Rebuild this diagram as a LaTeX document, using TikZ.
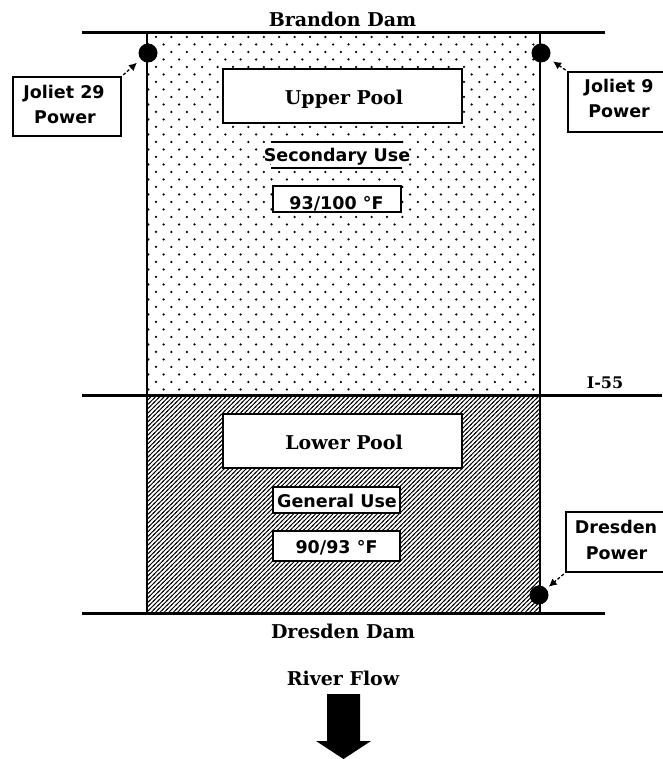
\documentclass[tikz,border=0pt]{standalone}
\usepackage{fontspec}
\setmainfont{DejaVu Serif}
\newfontfamily\labelsans{DejaVu Sans}
\usetikzlibrary{arrows.meta,patterns}

\pgfdeclarepatternformonly{sparsedots}{\pgfqpoint{-2pt}{-2pt}}{\pgfqpoint{17pt}{17pt}}{\pgfqpoint{15.4pt}{15pt}}{%
  \pgfpathcircle{\pgfqpoint{2pt}{2pt}}{1.25pt}%
  \pgfpathcircle{\pgfqpoint{9.7pt}{9.5pt}}{1.25pt}%
  \pgfusepath{fill}}
\pgfdeclarepatternformonly{densehatch}{\pgfqpoint{-1pt}{-1pt}}{\pgfqpoint{5.5pt}{5.5pt}}{\pgfqpoint{4.4pt}{4.4pt}}{%
  \pgfsetlinewidth{0.9pt}%
  \pgfpathmoveto{\pgfqpoint{-1pt}{-1pt}}%
  \pgfpathlineto{\pgfqpoint{5.4pt}{5.4pt}}%
  \pgfusepath{stroke}}

\tikzset{
  damline/.style={line width=3pt},
  sideline/.style={line width=2pt},
  titletext/.style={font=\bfseries\fontsize{19}{23}\selectfont, inner sep=0pt, anchor=base},
  sanstext/.style={font=\labelsans\bfseries\fontsize{17.5}{21}\selectfont, inner sep=0pt, anchor=base},
  poolbox/.style={draw, line width=2pt, fill=white, minimum width=239pt, minimum height=54pt, inner sep=0pt},
  smallbox/.style={draw, line width=1.6pt, fill=white, inner sep=0pt},
  plantdot/.style={circle, fill=black, minimum size=19pt, inner sep=0pt},
  pointer/.style={line width=1.3pt, dash pattern=on 3pt off 2pt, -{Latex[length=8pt,width=8pt]}}
}

\begin{document}
\begin{tikzpicture}[x=1pt,y=-1pt]
\useasboundingbox (0,0) rectangle (662,759);
\fill[white] (0,0) rectangle (662,759);

% pools
\fill[pattern=sparsedots] (147,33) rectangle (540,395);
\fill[pattern=densehatch] (147,395) rectangle (540,613);
\draw[sideline] (147,33) -- (147,613);
\draw[sideline] (540,33) -- (540,613);
\draw[damline] (82,33) -- (605,33);
\draw[damline] (82,395) -- (662,395);
\draw[damline] (82,613) -- (605,613);

% labels on lines
\node[titletext] (brandon) at (342.5,27) {Brandon Dam};
\node[titletext] (dresdendam) at (343,638) {Dresden Dam};
\node[titletext, font=\bfseries\fontsize{16}{20}\selectfont] (i55) at (605,388) {I-55};
\node[titletext] (flow) at (343,685) {River Flow};

% upper pool
\node[poolbox] (upperbox) at (342.5,96) {};
\node[titletext] (uppertext) at (344,105) {Upper Pool};
\fill[white] (271,142) rectangle (402,168);
\draw[line width=1.6pt] (271,142) -- (402,142) (271,168) -- (402,168);
\node[sanstext] (secuse) at (337,162) {Secondary Use};
\node[smallbox, minimum width=128pt, minimum height=26pt] (uppertemp) at (337,199) {};
\node[sanstext] (uppertemptext) at (336.5,210) {93/100 °F};

% lower pool
\node[poolbox] (lowerbox) at (342.5,441) {};
\node[titletext] (lowertext) at (344,449) {Lower Pool};
\node[smallbox, minimum width=127pt, minimum height=26pt] (genbox) at (336.5,500) {};
\node[sanstext] (genuse) at (337,507) {General Use};
\node[smallbox, minimum width=127pt, minimum height=30pt] (lowertemp) at (336.5,546) {};
\node[sanstext] (lowertemptext) at (336.5,553) {90/93 °F};

% power plants
\node[plantdot] (dot29) at (148,53) {};
\node[plantdot] (dot9) at (541,53) {};
\node[plantdot] (dotdres) at (539,595) {};

\node[smallbox, minimum width=108pt, minimum height=59pt] (j29box) at (67,106.5) {};
\node[sanstext] (j29a) at (64,99) {Joliet 29};
\node[sanstext] (j29b) at (65,124) {Power};

\node[smallbox, minimum width=100pt, minimum height=60pt] (j9box) at (618,102) {};
\node[sanstext] (j9a) at (619,93) {Joliet 9};
\node[sanstext] (j9b) at (619,118) {Power};

\node[smallbox, minimum width=100pt, minimum height=60pt] (dresbox) at (616,542) {};
\node[sanstext] (dresa) at (616,533) {Dresden};
\node[sanstext] (dresb) at (616.5,559) {Power};

\draw[pointer, shorten <=2pt, shorten >=5pt] (j29box.north east) -- (dot29);
\draw[pointer, shorten <=2pt, shorten >=5pt] (j9box.north west) -- (dot9);
\draw[pointer, shorten <=2pt, shorten >=3pt] (dresbox.south west) -- (dotdres);

% river flow arrow
\fill (327,694) -- (360,694) -- (360,741) -- (371,741) -- (343.5,759) -- (316,741) -- (327,741) -- cycle;
\end{tikzpicture}
\end{document}
